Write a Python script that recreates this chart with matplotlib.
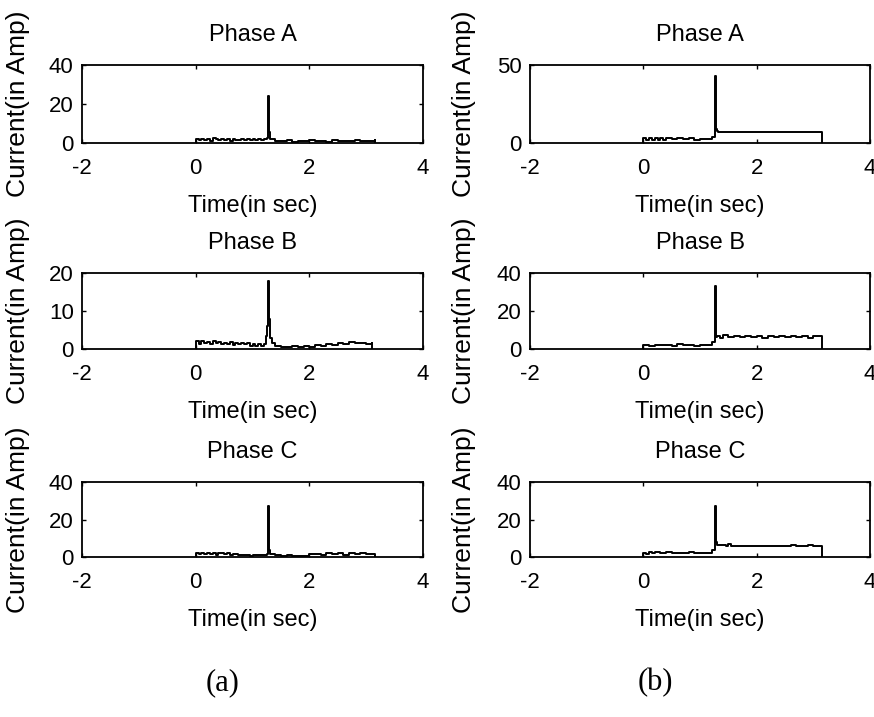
import matplotlib
matplotlib.use("Agg")
import matplotlib.pyplot as plt

plt.rcParams['font.family'] = ['Liberation Sans', 'DejaVu Sans']
plt.rcParams['axes.unicode_minus'] = False

# ---- data ----
t_left_a = [0.0, 0.0, 0.05, 0.1, 0.15, 0.2, 0.25, 0.3, 0.35, 0.4, 0.45, 0.5, 0.55, 0.6, 0.65, 0.7,
            0.75, 0.8, 0.85, 0.9, 0.95, 1.0, 1.05, 1.1, 1.15, 1.2, 1.25, 1.27, 1.28, 1.29, 1.3,
            1.4, 1.5, 1.6, 1.7, 1.8, 1.9, 2.0, 2.1, 2.2, 2.3, 2.4, 2.5, 2.6, 2.7, 2.8, 2.9, 3.0, 3.1, 3.15, 3.15]
i_left_a = [0.0, 2.2, 1.4, 2.3, 1.6, 2.1, 1.2, 2.4, 1.8, 1.3, 2.2, 1.5, 2.0, 1.1, 2.3, 1.7,
            1.4, 2.2, 1.6, 2.0, 1.3, 2.1, 1.5, 2.3, 1.4, 2.0, 2.4, 5.0, 24.0, 5.5, 1.8,
            1.2, 0.8, 1.5, 0.7, 1.1, 0.9, 1.6, 0.8, 1.2, 0.7, 1.3, 0.9, 1.1, 0.8, 1.4, 0.9, 1.2, 1.0, 1.3, 0.0]

t_left_b = [0.0, 0.0, 0.05, 0.1, 0.15, 0.2, 0.25, 0.3, 0.35, 0.4, 0.45, 0.5, 0.55, 0.6, 0.65, 0.7,
            0.75, 0.8, 0.85, 0.9, 0.95, 1.0, 1.05, 1.1, 1.15, 1.2, 1.24, 1.26, 1.27, 1.28, 1.29, 1.3,
            1.35, 1.4, 1.5, 1.6, 1.7, 1.8, 1.9, 2.0, 2.1, 2.2, 2.3, 2.4, 2.5, 2.6, 2.7, 2.8, 2.9, 3.0, 3.1, 3.1]
i_left_b = [0.0, 2.0, 1.2, 2.2, 1.6, 1.9, 1.3, 2.1, 1.5, 1.8, 1.2, 1.7, 1.4, 1.9, 1.1, 1.6,
            1.3, 1.7, 1.2, 1.5, 0.9, 1.4, 0.7, 1.2, 0.8, 1.3, 3.5, 6.0, 8.5, 18.0, 8.0, 3.0,
            1.5, 0.9, 0.6, 0.4, 0.7, 0.5, 0.8, 0.6, 1.0, 0.8, 1.3, 1.1, 1.6, 1.4, 1.9, 1.5, 1.7, 1.2, 1.5, 0.0]

t_left_c = [0.0, 0.0, 0.05, 0.1, 0.15, 0.2, 0.25, 0.3, 0.35, 0.4, 0.45, 0.5, 0.55, 0.6, 0.65, 0.7,
            0.75, 0.8, 0.85, 0.9, 0.95, 1.0, 1.05, 1.1, 1.15, 1.2, 1.25, 1.27, 1.28, 1.29, 1.3,
            1.4, 1.5, 1.6, 1.7, 1.8, 1.9, 2.0, 2.1, 2.2, 2.3, 2.4, 2.5, 2.6, 2.7, 2.8, 2.9, 3.0, 3.1, 3.15, 3.15]
i_left_c = [0.0, 2.1, 1.5, 2.3, 1.4, 2.0, 1.6, 2.4, 1.3, 1.9, 2.2, 1.5, 2.0, 1.2, 1.8, 1.4,
            1.0, 1.3, 0.9, 1.2, 0.8, 1.1, 0.9, 1.2, 1.0, 1.3, 1.5, 4.5, 27.0, 4.0, 1.5,
            1.0, 0.6, 1.2, 0.5, 0.8, 0.6, 1.5, 1.8, 1.2, 2.0, 1.5, 1.9, 1.3, 2.1, 1.6, 1.9, 1.4, 1.8, 1.6, 0.0]

t_right_a = [0.0, 0.0, 0.05, 0.1, 0.15, 0.2, 0.25, 0.3, 0.35, 0.4, 0.5, 0.6, 0.7, 0.8, 0.9, 1.0,
             1.1, 1.2, 1.22, 1.26, 1.27, 1.28, 1.29, 1.3, 1.32, 1.4, 1.6, 1.8, 2.0, 2.2, 2.4,
             2.6, 2.8, 3.0, 3.15, 3.15]
i_right_a = [0.0, 3.0, 2.0, 3.2, 2.1, 3.0, 2.2, 3.1, 2.0, 2.9, 2.3, 3.0, 2.4, 2.9, 2.2, 2.8,
             2.5, 2.6, 4.0, 5.0, 43.0, 12.0, 9.0, 7.5, 7.2, 7.0, 7.0, 7.0, 7.0, 7.0, 7.0,
             7.0, 7.0, 7.0, 7.0, 0.0]

t_right_b = [0.0, 0.0, 0.1, 0.2, 0.3, 0.4, 0.5, 0.6, 0.7, 0.8, 0.9, 1.0, 1.1, 1.2, 1.22, 1.26,
             1.27, 1.28, 1.29, 1.3, 1.35, 1.4, 1.5, 1.6, 1.7, 1.8, 1.9, 2.0, 2.1, 2.2, 2.3,
             2.4, 2.5, 2.6, 2.7, 2.8, 2.9, 3.0, 3.15, 3.15]
i_right_b = [0.0, 2.2, 1.8, 2.2, 1.9, 2.3, 1.8, 2.4, 1.9, 2.2, 1.8, 2.3, 2.0, 2.2, 3.5, 5.0,
             33.0, 8.0, 6.5, 7.0, 6.0, 7.2, 6.3, 7.0, 6.1, 7.1, 6.2, 6.9, 6.0, 7.0, 6.3,
             6.8, 6.1, 6.9, 6.2, 6.7, 6.0, 6.6, 6.3, 0.0]

t_right_c = [0.0, 0.0, 0.05, 0.1, 0.15, 0.2, 0.3, 0.4, 0.5, 0.6, 0.7, 0.8, 0.9, 1.0, 1.1, 1.2,
             1.22, 1.26, 1.27, 1.28, 1.29, 1.3, 1.35, 1.45, 1.5, 1.55, 1.6, 1.8, 2.0, 2.2,
             2.4, 2.6, 2.7, 2.8, 2.9, 3.0, 3.15, 3.15]
i_right_c = [0.0, 2.4, 1.8, 2.6, 1.9, 2.5, 2.0, 2.6, 1.9, 2.4, 2.1, 2.5, 2.0, 2.3, 2.2, 2.2,
             3.5, 5.0, 27.0, 10.0, 8.0, 6.5, 6.2, 6.0, 7.0, 6.0, 6.0, 6.0, 6.0, 6.0,
             6.0, 6.3, 6.0, 6.0, 6.5, 6.0, 6.0, 0.0]

titles = ['Phase A', 'Phase B', 'Phase C']
left_series = [(t_left_a, i_left_a), (t_left_b, i_left_b), (t_left_c, i_left_c)]
right_series = [(t_right_a, i_right_a), (t_right_b, i_right_b), (t_right_c, i_right_c)]
left_yticks = [[0, 20, 40], [0, 10, 20], [0, 20, 40]]
right_yticks = [[0, 50], [0, 20, 40], [0, 20, 40]]
x_ticks = [-2, 0, 2, 4]

fig = plt.figure(figsize=(8.74, 7.17), dpi=100)

# axes boxes in pixels: (top, bottom) / (left, right)
rows = [(65, 143), (273, 349), (482, 557)]
cols = [(82, 423), (530, 870)]
W, H = 874.0, 717.0
ylab_x = [30, 476]   # centre of the y label, pixels


def draw(ax, t, cur, title, yt, ylx):
    ax.plot(t, cur, color='black', lw=1.4, drawstyle='steps-post')
    ax.set_xlim(-2, 4)
    ax.set_ylim(yt[0], yt[-1])
    ax.set_xticks(x_ticks)
    ax.set_yticks(yt)
    ax.tick_params(direction='in', top=True, right=True, length=3, width=1, labelsize=16)
    ax.tick_params(axis='x', pad=11)
    ax.tick_params(axis='y', pad=6)
    for s in ax.spines.values():
        s.set_linewidth(1.3)
    ax.set_title(title, fontsize=17, pad=17)
    ax.set_xlabel('Time(in sec)', fontsize=17, labelpad=11)
    ax.set_ylabel('Current(in Amp)', fontsize=19)
    ax.yaxis.set_label_coords(ylx, 0.5)


for c, (x0, x1) in enumerate(cols):
    series = left_series if c == 0 else right_series
    yts = left_yticks if c == 0 else right_yticks
    for r, (y0, y1) in enumerate(rows):
        ax = fig.add_axes([x0 / W, 1 - y1 / H, (x1 - x0) / W, (y1 - y0) / H])
        t, cur = series[r]
        draw(ax, t, cur, titles[r], yts[r], (ylab_x[c] - x0) / (x1 - x0))

fig.text(223 / W, 1 - 683 / H, '(a)', ha='center', va='center', fontsize=22, family='Liberation Serif')
fig.text(655 / W, 1 - 683 / H, '(b)', ha='center', va='center', fontsize=22, family='Liberation Serif')

fig.savefig('out.png', dpi=100, facecolor='white')
